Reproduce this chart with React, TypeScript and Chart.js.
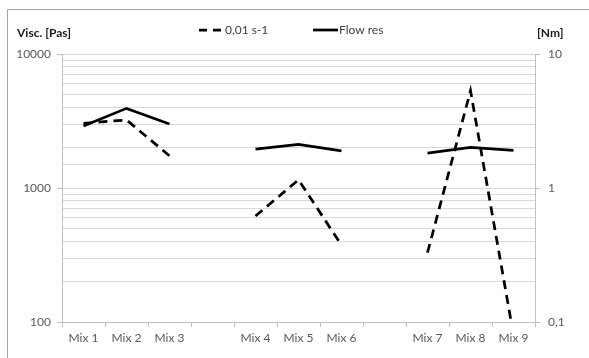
import React, { useEffect, useRef } from "react";
import { Chart, registerables } from "chart.js";

Chart.register(...registerables);

// ---- data ----
const categories = ["Mix 1", "Mix 2", "Mix 3", "", "Mix 4", "Mix 5", "Mix 6", "", "Mix 7", "Mix 8", "Mix 9"];
const viscosity001 = [3040, 3220, 1740, null, 618, 1150, 375, null, 329, 5320, 80];
const flowRes = [2.9, 3.93, 3.0, null, 1.95, 2.12, 1.89, null, 1.82, 2.01, 1.91];
const leftRange = [100, 10000];
const rightRange = [0.1, 10];
const seriesNames = ["0,01 s-1", "Flow res"];
const leftTitle = "Visc. [Pas]";
const rightTitle = "[Nm]";

const FONT = "Lato, 'Open Sans', sans-serif";
const AXIS = "#bfbfbf";
const GRID = "#d9d9d9";
const TICK_TEXT = "#595959";

const isDecade = (v: number) => Math.abs(Math.log10(v) - Math.round(Math.log10(v))) < 1e-9;

const decorPlugin = {
  id: "decor",
  afterDraw(chart: any) {
    const ctx = chart.ctx;
    ctx.save();
    // chart frame
    ctx.strokeStyle = "#a6a6a6";
    ctx.lineWidth = 1;
    ctx.beginPath();
    ctx.moveTo(7.5, 358);
    ctx.lineTo(7.5, 9.5);
    ctx.lineTo(589, 9.5);
    ctx.stroke();

    // axis titles
    ctx.fillStyle = "#1a1a1a";
    ctx.font = `bold 12px ${FONT}`;
    ctx.textBaseline = "middle";
    ctx.textAlign = "left";
    ctx.fillText(leftTitle, 17, 33);
    ctx.fillText(rightTitle, 537, 33);

    // legend
    const ly = 30;
    ctx.strokeStyle = "#000";
    ctx.lineWidth = 2.75;
    ctx.lineCap = "butt";
    ctx.setLineDash([8, 6]);
    ctx.beginPath();
    ctx.moveTo(199, ly);
    ctx.lineTo(223, ly);
    ctx.stroke();
    ctx.setLineDash([]);
    ctx.beginPath();
    ctx.moveTo(313, ly);
    ctx.lineTo(338, ly);
    ctx.stroke();
    ctx.fillStyle = "#404040";
    ctx.font = `12px ${FONT}`;
    ctx.fillText(seriesNames[0], 225, ly);
    ctx.fillText(seriesNames[1], 339, ly);
    ctx.restore();
  },
};

export default function App() {
  const ref = useRef<HTMLCanvasElement | null>(null);
  useEffect(() => {
    document.body.style.margin = "0";
    const canvas = ref.current;
    if (!canvas) return;
    const chart = new Chart(canvas, {
      type: "line",
      data: {
        labels: categories,
        datasets: [
          {
            label: seriesNames[0],
            data: viscosity001,
            yAxisID: "y",
            borderColor: "#000",
            borderWidth: 2.75,
            borderDash: [9, 6],
            pointRadius: 0,
            tension: 0,
            fill: false,
          },
          {
            label: seriesNames[1],
            data: flowRes,
            yAxisID: "y1",
            borderColor: "#000",
            borderWidth: 2.75,
            pointRadius: 0,
            tension: 0,
            fill: false,
          },
        ],
      },
      plugins: [decorPlugin],
      options: {
        responsive: false,
        animation: false,
        devicePixelRatio: 1,
        layout: { padding: { top: 54, left: 0, right: 0, bottom: 0 } },
        plugins: { legend: { display: false }, tooltip: { enabled: false }, title: { display: false } },
        scales: {
          x: {
            type: "category",
            offset: true,
            grid: { drawOnChartArea: false, offset: true, tickLength: 5, color: AXIS },
            border: { color: AXIS },
            ticks: {
              color: TICK_TEXT,
              font: { family: FONT, size: 12 },
              maxRotation: 0,
              autoSkip: false,
              padding: 4,
            },
            afterFit: (s: any) => {
              s.height = 36;
            },
          },
          y: {
            type: "logarithmic",
            position: "left",
            min: leftRange[0],
            max: leftRange[1],
            grid: {
              color: GRID,
              tickLength: 5,
              tickColor: (c: any) => (c.tick && isDecade(c.tick.value) ? AXIS : "rgba(0,0,0,0)"),
            },
            border: { color: AXIS },
            ticks: {
              autoSkip: false,
              color: TICK_TEXT,
              font: { family: FONT, size: 12 },
              padding: 6,
              callback: (v: any) => (isDecade(Number(v)) ? String(Math.round(Number(v))) : ""),
            },
            afterFit: (s: any) => {
              s.width = 62;
            },
          },
          y1: {
            type: "logarithmic",
            position: "right",
            min: rightRange[0],
            max: rightRange[1],
            grid: {
              drawOnChartArea: false,
              tickLength: 5,
              color: AXIS,
              tickColor: (c: any) => (c.tick && isDecade(c.tick.value) ? AXIS : "rgba(0,0,0,0)"),
            },
            border: { color: AXIS },
            ticks: {
              autoSkip: false,
              color: TICK_TEXT,
              font: { family: FONT, size: 12 },
              padding: 8,
              callback: (v: any) => {
                const n = Number(v);
                if (!isDecade(n)) return "";
                return String(Math.pow(10, Math.round(Math.log10(n)))).replace(".", ",");
              },
            },
            afterFit: (s: any) => {
              s.width = 54;
            },
          },
        },
      },
    });
    return () => chart.destroy();
  }, []);

  return (
    <div style={{ position: "absolute", left: 0, top: 0, width: 589, height: 358, background: "#fff" }}>
      <canvas ref={ref} width={589} height={358} style={{ width: 589, height: 358, display: "block" }} />
    </div>
  );
}
